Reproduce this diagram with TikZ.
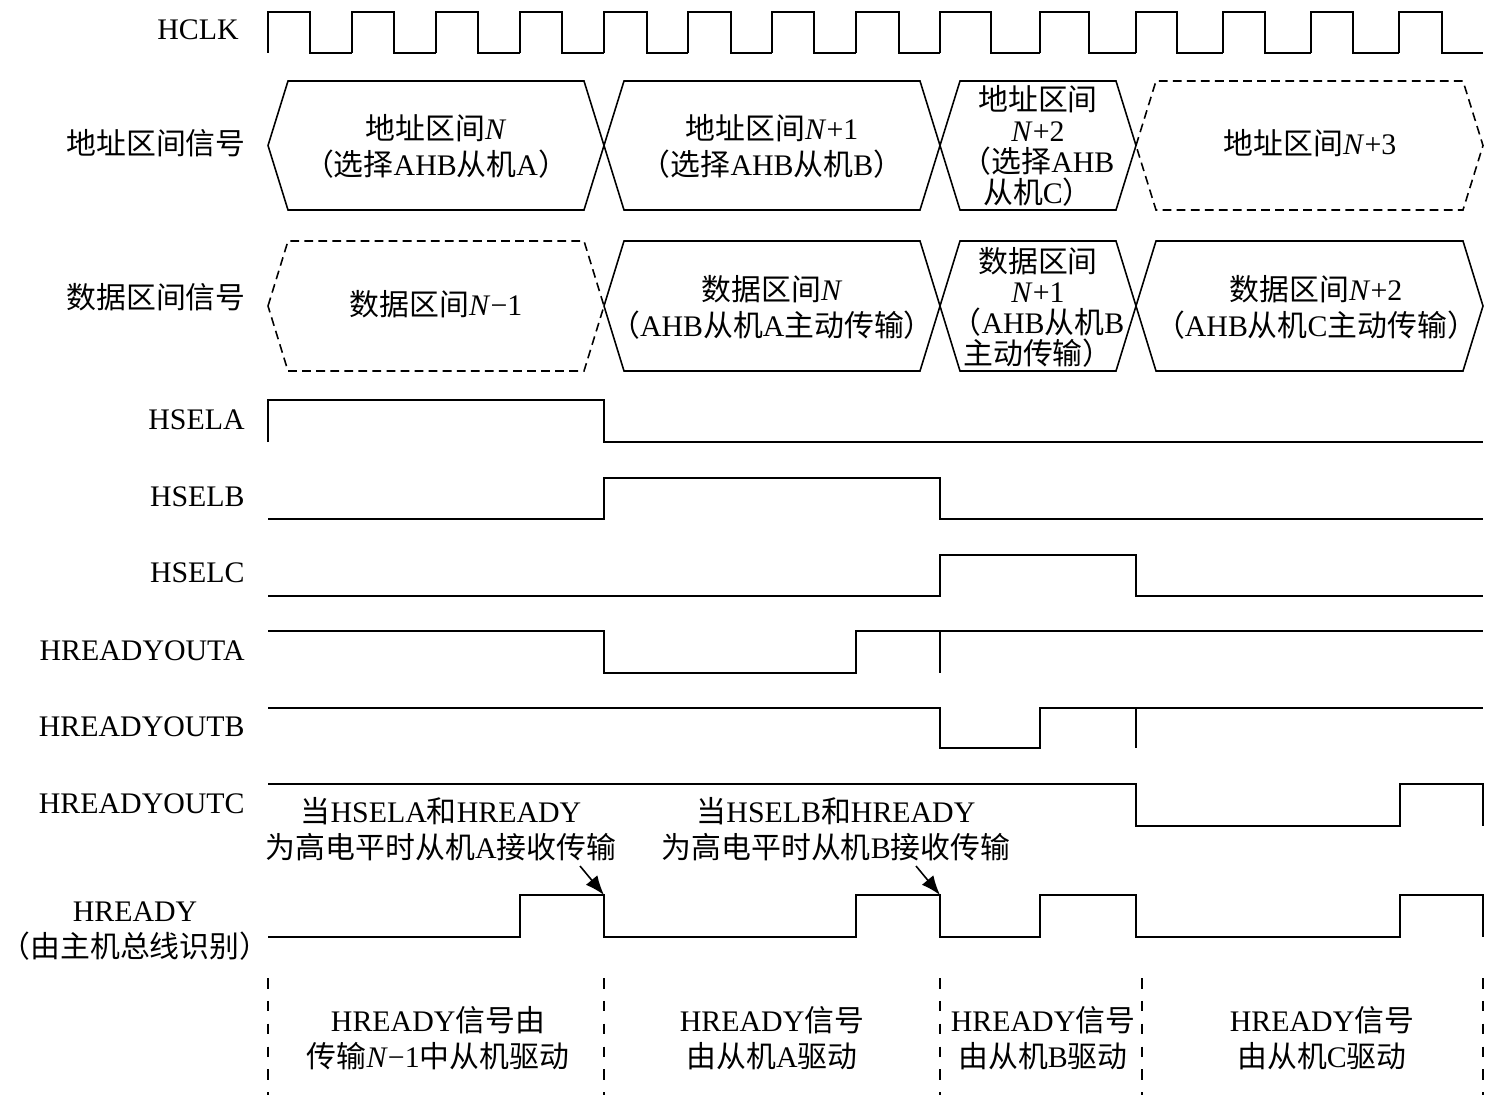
\documentclass[tikz,border=0pt]{standalone}
\usepackage{fontspec}
\setmainfont{Liberation Serif}
\newfontfamily\cjk{Noto Sans CJK SC}
\usetikzlibrary{arrows.meta}
\newcommand{\zh}[1]{{\cjk #1}}

\begin{document}
\begin{tikzpicture}[
    x=0.02cm, y=-0.02cm,
    >={Latex[length=11pt,width=8.5pt]},
    wave/.style={line width=1.1pt},
    bus/.style={line width=0.9pt},
    busdash/.style={bus, dash pattern=on 5pt off 3pt},
    sep/.style={line width=0.8pt, dash pattern=on 6pt off 7pt},
    sig/.style={font=\fontsize{17}{20}\selectfont, anchor=east, inner sep=0pt},
    txt/.style={font=\fontsize{17}{20.5}\selectfont, align=center, inner sep=0pt},
    tight/.style={font=\fontsize{17}{17.5}\selectfont, align=center, inner sep=0pt},
  ]
  \useasboundingbox (0,0) rectangle (1498,1098);
  \def\sl{20}

  % ========= SIGNAL NAMES =========
  \node[sig] (lHCLK) at (239,30) {HCLK};
  \node[sig] (lAddr) at (246,143) {\zh{地址区间信号}};
  \node[sig] (lData) at (246,297) {\zh{数据区间信号}};
  \node[sig] (lSELA) at (245,420) {HSELA};
  \node[sig] (lSELB) at (245,497) {HSELB};
  \node[sig] (lSELC) at (245,573) {HSELC};
  \node[sig] (lOUTA) at (245,651) {HREADYOUTA};
  \node[sig] (lOUTB) at (245,727) {HREADYOUTB};
  \node[sig] (lOUTC) at (245,804) {HREADYOUTC};
  \node[txt] (lREADY) at (135,931) {HREADY\\\zh{（由主机总线识别）}};

  % ========= CLOCK =========
  \foreach \r/\f/\n in {268/310/352, 352/394/436, 436/478/520, 520/562/604,
      604/647/688, 688/731/772, 772/814/856, 856/899/940, 940/991/1040,
      1040/1089/1136, 1136/1177/1223, 1223/1265/1311, 1311/1353/1399, 1399/1442/1483}
    \draw[wave] (\r,53) -- (\r,12) -- (\f,12) -- (\f,53) -- (\n,53);

  % ========= ADDRESS PHASE =========
  \foreach \a/\b/\st in {268/604/bus, 604/940/bus, 940/1136/bus, 1136/1483/busdash}
    \draw[\st] (\a,145.5) -- (\a+\sl,81) -- (\b-\sl,81) -- (\b,145.5)
      -- (\b-\sl,210) -- (\a+\sl,210) -- cycle;
  \node[txt] (addrN) at (436,146) {\zh{地址区间}\textit{N}\\\zh{（选择}AHB\zh{从机}A\zh{）}};
  \node[txt] (addrN1) at (772,146) {\zh{地址区间}\textit{N}+1\\\zh{（选择}AHB\zh{从机}B\zh{）}};
  \node[tight] (addrN2) at (1038,146) {\zh{地址区间}\\\textit{N}+2\\\zh{（选择}AHB\\\zh{从机}C\zh{）}};
  \node[txt] (addrN3) at (1310,143) {\zh{地址区间}\textit{N}+3};

  % ========= DATA PHASE =========
  \foreach \a/\b/\st in {268/604/busdash, 604/940/bus, 940/1136/bus, 1136/1483/bus}
    \draw[\st] (\a,306) -- (\a+\sl,241) -- (\b-\sl,241) -- (\b,306)
      -- (\b-\sl,371) -- (\a+\sl,371) -- cycle;
  \node[txt] (dataNm1) at (436,304) {\zh{数据区间}\textit{N}−1};
  \node[txt] (dataN) at (772,307) {\zh{数据区间}\textit{N}\\\zh{（}AHB\zh{从机}A\zh{主动传输）}};
  \node[tight] (dataN1) at (1038,307) {\zh{数据区间}\\\textit{N}+1\\\zh{（}AHB\zh{从机}B\\\zh{主动传输）}};
  \node[txt] (dataN2) at (1316,307) {\zh{数据区间}\textit{N}+2\\\zh{（}AHB\zh{从机}C\zh{主动传输）}};

  % ========= SELECTS =========
  \draw[wave] (268,442) -- (268,400) -- (604,400) -- (604,442) -- (1483,442);
  \draw[wave] (268,519) -- (604,519) -- (604,478) -- (940,478) -- (940,519) -- (1483,519);
  \draw[wave] (268,596) -- (940,596) -- (940,555) -- (1136,555) -- (1136,596) -- (1483,596);

  % ========= READY OUTPUTS =========
  \draw[wave] (268,631) -- (604,631) -- (604,673) -- (856,673) -- (856,631) -- (1483,631);
  \draw[wave] (940,631) -- (940,673);
  \draw[wave] (268,708) -- (940,708) -- (940,748) -- (1040,748) -- (1040,708) -- (1483,708);
  \draw[wave] (1136,708) -- (1136,748);
  \draw[wave] (268,784) -- (1136,784) -- (1136,826) -- (1400,826) -- (1400,784) -- (1483,784) -- (1483,826);

  % HREADY
  \draw[wave] (268,937) -- (520,937) -- (520,895) -- (604,895) -- (604,937) -- (856,937)
    -- (856,895) -- (940,895) -- (940,937) -- (1040,937) -- (1040,895) -- (1136,895)
    -- (1136,937) -- (1400,937) -- (1400,895) -- (1483,895) -- (1483,937);

  % notes
  \node[txt] (noteA) at (441,829) {\zh{当}HSELA\zh{和}HREADY\\\zh{为高电平时从机}A\zh{接收传输}};
  \node[txt] (noteB) at (836,829) {\zh{当}HSELB\zh{和}HREADY\\\zh{为高电平时从机}B\zh{接收传输}};
  \coordinate (tailA) at (580,866);
  \coordinate (tipA) at (604,895);
  \coordinate (tailB) at (916,866);
  \coordinate (tipB) at (940,895);
  \draw[->, line width=0.9pt] (tailA) -- (tipA);
  \draw[->, line width=0.9pt] (tailB) -- (tipB);

  % ========= DRIVER SPANS =========
  \foreach \x in {268,604,940,1142,1483}
    \draw[sep] (\x,978) -- (\x,1095);
  \node[txt] (drvN) at (438,1038) {HREADY\zh{信号由}\\\zh{传输}\textit{N}−1\zh{中从机驱动}};
  \node[txt] (drvA) at (772,1038) {HREADY\zh{信号}\\\zh{由从机}A\zh{驱动}};
  \node[txt] (drvB) at (1043,1038) {HREADY\zh{信号}\\\zh{由从机}B\zh{驱动}};
  \node[txt] (drvC) at (1322,1038) {HREADY\zh{信号}\\\zh{由从机}C\zh{驱动}};
\end{tikzpicture}
\end{document}
